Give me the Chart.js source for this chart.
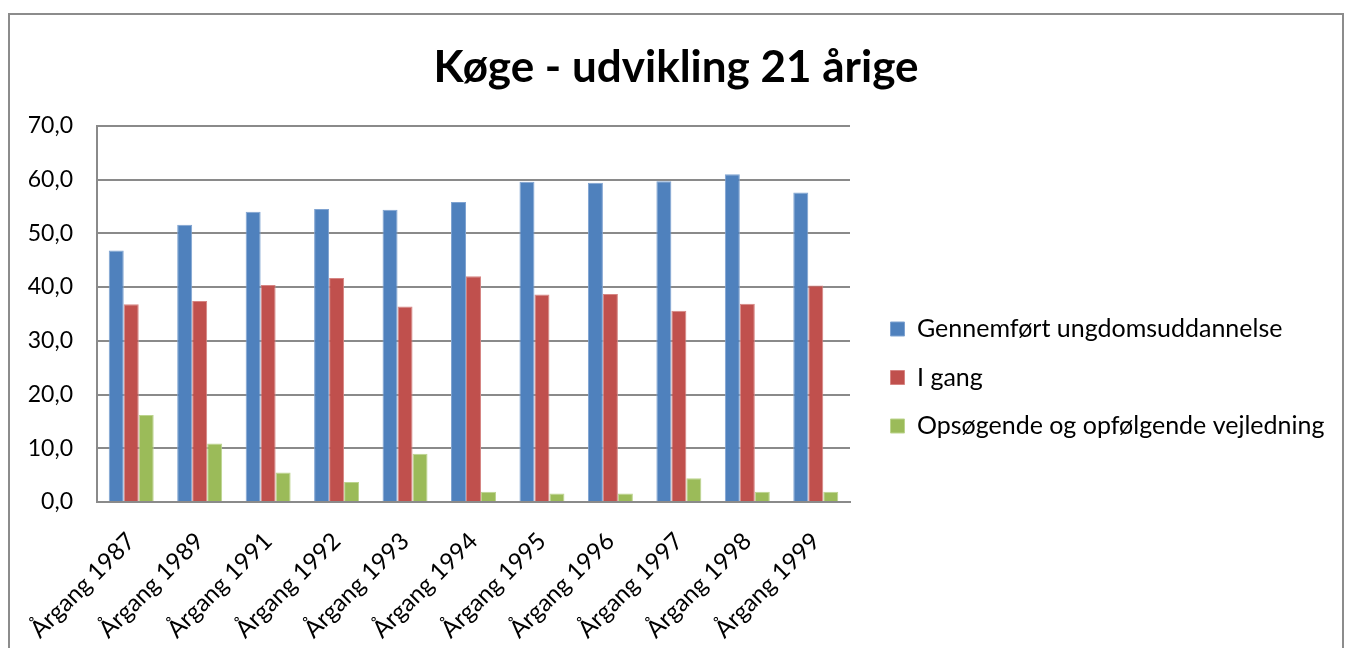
<!DOCTYPE html>
<html>
<head>
<meta charset="utf-8">
<script src="https://cdn.jsdelivr.net/npm/chart.js@4/dist/chart.umd.min.js"></script>
<style>
  html, body { margin: 0; padding: 0; background: #fff; }
  #wrap { position: relative; width: 1345px; height: 648px; overflow: hidden; }
  #frame { position: absolute; left: 8px; top: 13px; width: 1336px; height: 700px; border: 2px solid #8c8c8c; box-sizing: border-box; }
  canvas { position: absolute; left: 0; top: 0; }
</style>
</head>
<body>
<div id="wrap">
  <div id="frame"></div>
  <canvas id="c" width="1345" height="648"></canvas>
</div>
<script>
const titleText = "Køge - udvikling 21 årige";
const categories = ["Årgang 1987", "Årgang 1989", "Årgang 1991", "Årgang 1992", "Årgang 1993", "Årgang 1994", "Årgang 1995", "Årgang 1996", "Årgang 1997", "Årgang 1998", "Årgang 1999"];
const seriesNames = ["Gennemført ungdomsuddannelse", "I gang", "Opsøgende og opfølgende vejledning"];
const gennemfoert = [46.8, 51.6, 54.0, 54.5, 54.4, 55.8, 59.6, 59.4, 59.7, 61.0, 57.6];
const iGang = [36.8, 37.4, 40.4, 41.7, 36.4, 42.0, 38.6, 38.7, 35.6, 36.9, 40.3];
const opsoegende = [16.2, 10.9, 5.5, 3.7, 9.0, 1.9, 1.6, 1.6, 4.4, 1.9, 1.9];
const yTicks = [0, 10, 20, 30, 40, 50, 60, 70];

const FONT = "Lato, 'Open Sans', sans-serif";
const gridColor = '#8a8a8a';

const placeBoxes = {
  id: 'placeBoxes',
  afterLayout(chart) {
    const lg = chart.legend;
    if (lg) {
      lg.left = 867; lg.right = 1345; lg.width = lg.right - lg.left;
      lg.top = 293; lg.bottom = lg.top + 200; lg.height = 200;
    }
    const t = chart.titleBlock;
    if (t) {
      t.left = 0; t.right = 1352; t.width = 1352;
    }
  }
};

new Chart(document.getElementById('c'), {
  type: 'bar',
  data: {
    labels: categories,
    datasets: [
      { label: seriesNames[0], data: gennemfoert, backgroundColor: '#4F81BD', borderColor: '#7fa3d1', borderWidth: 1 },
      { label: seriesNames[1], data: iGang, backgroundColor: '#C0504D', borderColor: '#d68583', borderWidth: 1 },
      { label: seriesNames[2], data: opsoegende, backgroundColor: '#9BBB59', borderColor: '#bcd48e', borderWidth: 1 }
    ]
  },
  plugins: [placeBoxes],
  options: {
    responsive: false,
    animation: false,
    devicePixelRatio: 1,
    layout: { padding: { left: 20, right: 200, top: 0, bottom: 0 } },
    datasets: { bar: { categoryPercentage: 0.657, barPercentage: 1.0 } },
    plugins: {
      title: {
        display: true,
        text: titleText,
        color: '#000',
        font: { family: FONT, size: 44, weight: 'bold', lineHeight: 1.2 },
        padding: { top: 41, bottom: 32 }
      },
      legend: {
        position: 'right',
        align: 'start',
        maxWidth: 295,
        labels: {
          color: '#000',
          font: { family: FONT, size: 25 },
          boxWidth: 14,
          boxHeight: 14,
          padding: 23.5
        }
      },
      tooltip: { enabled: false }
    },
    scales: {
      x: {
        grid: { display: false, drawTicks: false },
        border: { display: true, color: gridColor, width: 2 },
        ticks: {
          color: '#000',
          font: { family: FONT, size: 24 },
          minRotation: 45,
          maxRotation: 45,
          padding: 25
        },
        afterFit(scale) { scale.height = 146; }
      },
      y: {
        min: 0,
        max: 70,
        afterBuildTicks(scale) { scale.ticks = yTicks.map(v => ({ value: v })); },
        grid: { color: gridColor, lineWidth: 2, drawTicks: false },
        border: { display: true, color: gridColor, width: 2 },
        ticks: {
          color: '#000',
          font: { family: FONT, size: 23 },
          padding: 24,
          callback: (v) => Number(v).toFixed(1).replace('.', ',')
        },
        afterFit(scale) { scale.width = 77; }
      }
    }
  }
});
</script>
</body>
</html>
